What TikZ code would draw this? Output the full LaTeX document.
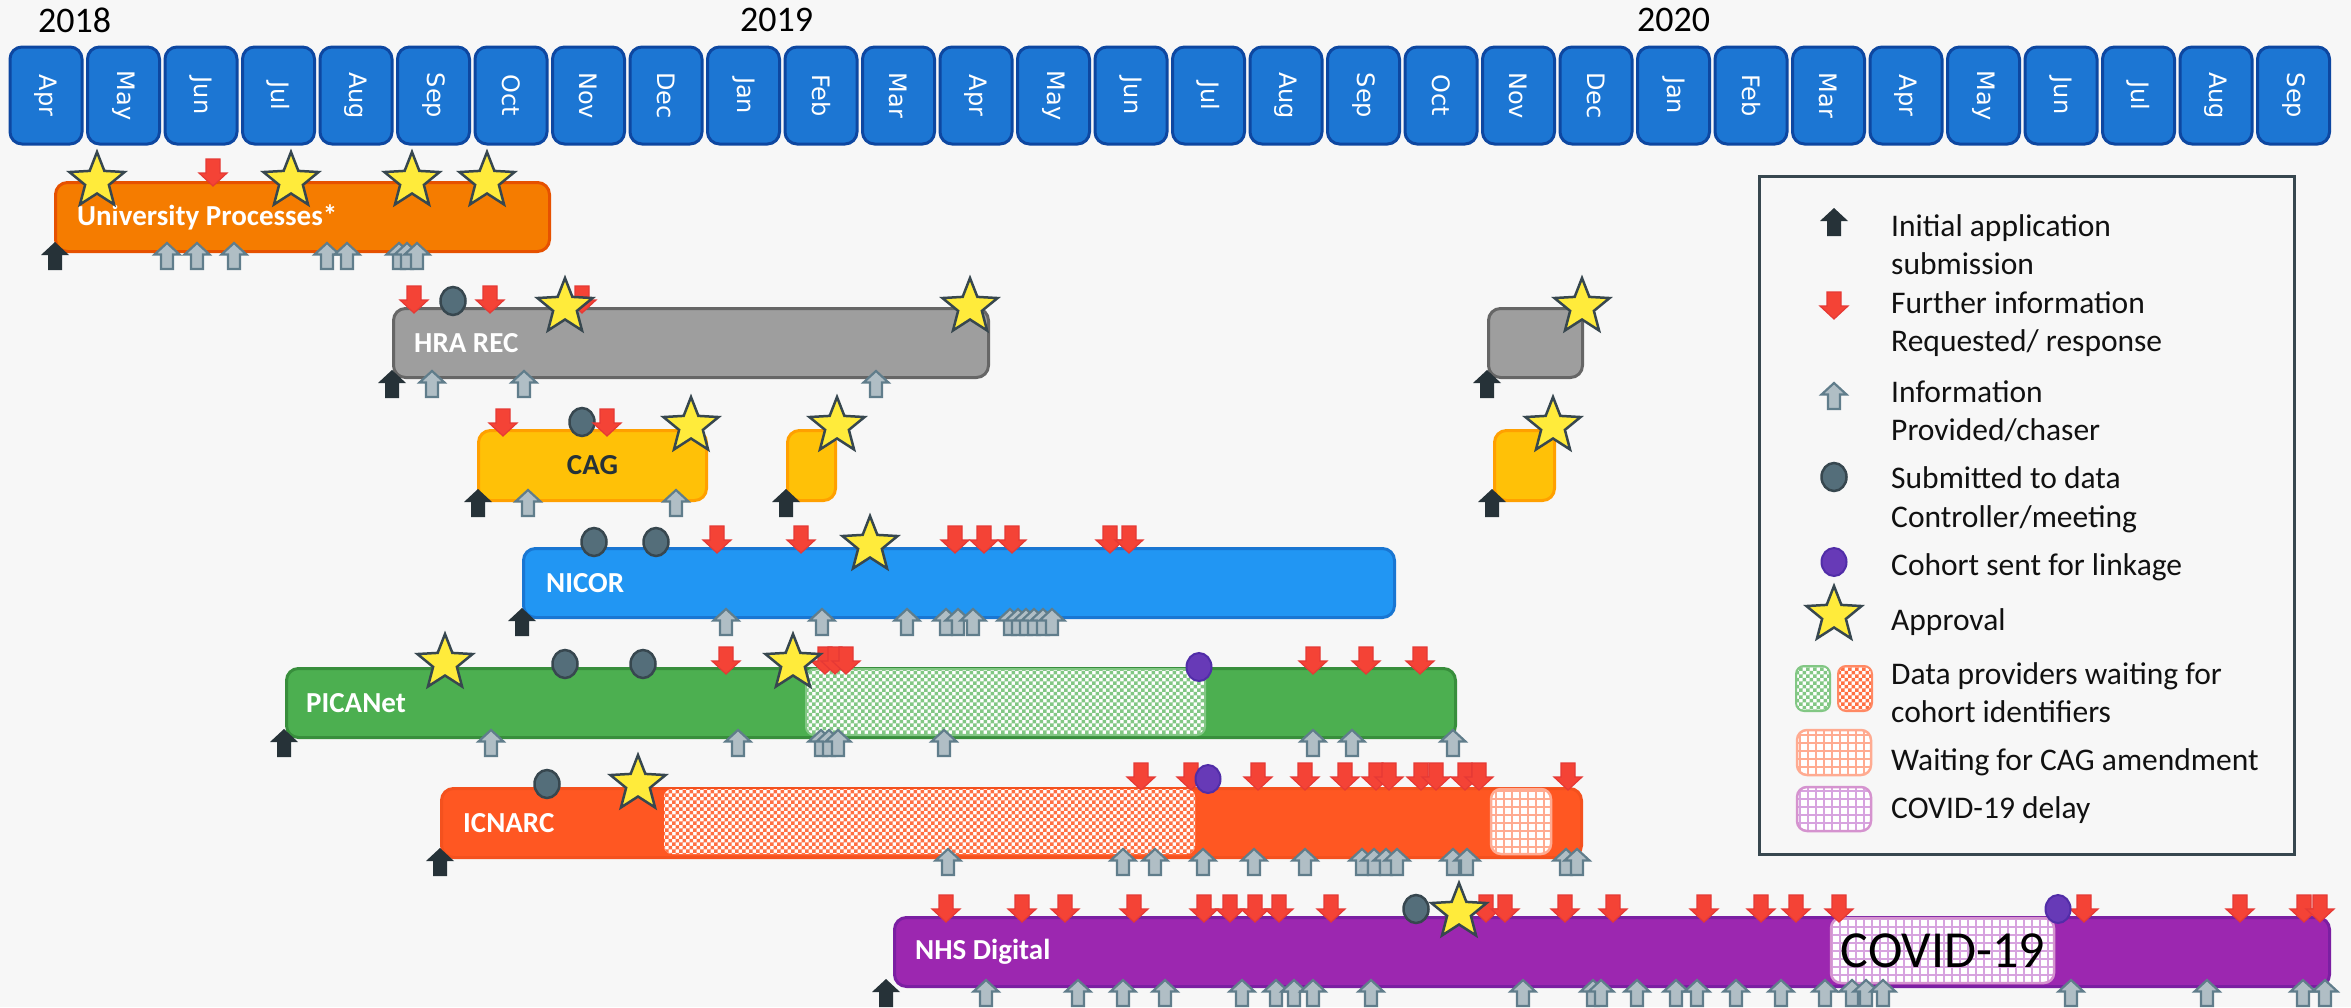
\documentclass[tikz,border=0pt]{standalone}
\usepackage{fontspec}
\setmainfont{Carlito}
\newfontfamily\monthfont{DejaVu Sans}
\usepackage{graphicx}
\usetikzlibrary{patterns,patterns.meta}

\definecolor{bgcol}{HTML}{F7F7F7}
\definecolor{monthfill}{HTML}{1C76D3}
\definecolor{monthline}{HTML}{0D47A1}
\definecolor{univfill}{HTML}{F57C00}
\definecolor{univline}{HTML}{E65100}
\definecolor{hrafill}{HTML}{9E9E9E}
\definecolor{hraline}{HTML}{666666}
\definecolor{cagfill}{HTML}{FFC107}
\definecolor{cagline}{HTML}{FFA000}
\definecolor{cagtext}{HTML}{263238}
\definecolor{nicorfill}{HTML}{2196F3}
\definecolor{nicorline}{HTML}{1976D2}
\definecolor{picafill}{HTML}{4CAF50}
\definecolor{picaline}{HTML}{388E3C}
\definecolor{icnarcfill}{HTML}{FF5722}
\definecolor{icnarcline}{HTML}{F4511E}
\definecolor{nhsfill}{HTML}{9C27B0}
\definecolor{nhsline}{HTML}{7B1FA2}
\definecolor{reqfill}{HTML}{F44336}
\definecolor{reqline}{HTML}{E53935}
\definecolor{infofill}{HTML}{B0BEC5}
\definecolor{infoline}{HTML}{607D8B}
\definecolor{initfill}{HTML}{263238}
\definecolor{meetfill}{HTML}{546E7A}
\definecolor{meetline}{HTML}{37474F}
\definecolor{linkfill}{HTML}{673AB7}
\definecolor{linkline}{HTML}{512DA8}
\definecolor{starfill}{HTML}{FFEB3B}
\definecolor{starline}{HTML}{37474F}
\definecolor{legline}{HTML}{37474F}
\definecolor{legtextcol}{HTML}{111111}
\definecolor{cagamend}{HTML}{FFAB91}
\definecolor{covidgrid}{HTML}{D7A3DF}

% small chequer for the waiting periods
\pgfdeclarepatternformonly{chequer}{\pgfqpoint{-0.1pt}{-0.1pt}}{\pgfqpoint{7.1pt}{7.1pt}}{\pgfqpoint{7pt}{7pt}}{%
  \pgfpathrectangle{\pgfqpoint{0pt}{0pt}}{\pgfqpoint{3.5pt}{3.5pt}}%
  \pgfpathrectangle{\pgfqpoint{3.5pt}{3.5pt}}{\pgfqpoint{3.5pt}{3.5pt}}%
  \pgfusepath{fill}}

\begin{document}
\begin{tikzpicture}[x=1pt, y=-1pt,
    month/.style={draw=monthline, fill=monthfill, line width=3pt, rounded corners=12pt, minimum width=72pt, minimum height=97pt, inner sep=0pt, text=white, font=\monthfont\fontsize{24}{24}\selectfont},
    bar/.style={rounded corners=12pt, line width=3pt, minimum height=69pt, anchor=north west, inner sep=0pt},
    barlabel/.style={anchor=west, inner sep=0pt, text=white, font=\bfseries\fontsize{29}{30}\selectfont},
    year/.style={anchor=west, inner sep=0pt, font=\fontsize{36}{36}\selectfont},
    legtext/.style={anchor=base west, inner sep=0pt, text=legtextcol, font=\fontsize{31.5}{38}\selectfont},
    waitgreen/.style={preaction={fill=white}, pattern=chequer, pattern color=picafill!70, draw=picafill!70, line width=2pt, rounded corners=8pt},
    waitorange/.style={preaction={fill=white}, pattern=chequer, pattern color=icnarcfill!85, draw=icnarcfill!70, line width=2pt, rounded corners=8pt},
    cagwait/.style={preaction={fill=white}, pattern={Hatch[angle=0,distance=8pt,line width=1.6pt]}, pattern color=cagamend, draw=cagamend, line width=2.5pt, rounded corners=10pt},
    covidwait/.style={preaction={fill=white}, pattern={Hatch[angle=0,distance=8pt,line width=1.4pt]}, pattern color=covidgrid, draw=covidgrid!90!purple, line width=2.5pt, rounded corners=10pt},
    initarrow/.pic={\fill[initfill] (0,0) -- (14,13) -- (7,13) -- (7,28) -- (-7,28) -- (-7,13) -- (-14,13) -- cycle;},
    infoarrow/.pic={\filldraw[fill=infofill, draw=infoline, line width=2.2pt] (0,1) -- (12.5,12.5) -- (6,12.5) -- (6,27) -- (-6,27) -- (-6,12.5) -- (-12.5,12.5) -- cycle;},
    reqarrow/.pic={\filldraw[fill=reqfill, draw=reqline, line width=1.2pt] (0,0) -- (-14,-13) -- (-7,-13) -- (-7,-27) -- (7,-27) -- (7,-13) -- (14,-13) -- cycle;},
    meetdot/.pic={\filldraw[fill=meetfill, draw=meetline, line width=2.5pt] (0,0) ellipse [x radius=12.5pt, y radius=14pt];},
    linkdot/.pic={\filldraw[fill=linkfill, draw=linkline, line width=2pt] (0,0) ellipse [x radius=12.5pt, y radius=14pt];},
    approval/.pic={\filldraw[fill=starfill, draw=starline, line width=2.5pt] (270:29) -- (306:12.5) -- (342:29) -- (18:12.5) -- (54:29) -- (90:12.5) -- (126:29) -- (162:12.5) -- (198:29) -- (234:12.5) -- cycle;}]

% Hintergrund
\fill[bgcol] (0,0) rectangle (2351,1007);
\useasboundingbox (0,0) rectangle (2351,1007);

% years and months
\node[year] (y2018) at (38,20) {2018};
\node[year] (y2019) at (740,20) {2019};
\node[year] (y2020) at (1637,20) {2020};
\foreach \m [count=\i from 0] in {Apr,May,Jun,Jul,Aug,Sep,Oct,Nov,Dec,Jan,Feb,Mar,Apr,May,Jun,Jul,Aug,Sep,Oct,Nov,Dec,Jan,Feb,Mar,Apr,May,Jun,Jul,Aug,Sep}
  \node[month] (m\i) at ({46+77.5*\i},95.5) {\rotatebox{-90}{\m}};

% University Processes
\node[bar, fill=univfill, draw=univline, minimum width=494pt] (univ) at (54,181) {};
\node[barlabel] (univlbl) at ([xshift=23pt]univ.west) {University Processes*};
\foreach \x in {213} \pic at (\x,186) {reqarrow};
\foreach \x in {167,197,234,327,347,399,407,417} \pic at (\x,242) {infoarrow};
\pic at (55,242) {initarrow};
\foreach \x in {97,291,412,487} \pic at (\x,181) {approval};

% HRA REC
\node[bar, fill=hrafill, draw=hraline, minimum width=595pt] (hra) at (392,307) {};
\node[bar, fill=hrafill, draw=hraline, minimum width=94pt] (hrab) at (1487,307) {};
\node[barlabel] (hralbl) at ([xshift=22pt]hra.west) {HRA REC};
\foreach \x in {453} \pic at (\x,301) {meetdot};
\foreach \x in {414,490,582} \pic at (\x,313) {reqarrow};
\foreach \x in {432,524,876} \pic at (\x,370) {infoarrow};
\foreach \x in {392,1487} \pic at (\x,370) {initarrow};
\foreach \x in {565,970,1582} \pic at (\x,307) {approval};

% CAG
\node[bar, fill=cagfill, draw=cagline, minimum width=228pt, minimum height=70pt] (cag) at (477,429) {};
\node[bar, fill=cagfill, draw=cagline, minimum width=48pt, minimum height=70pt] (cagb) at (786,429) {};
\node[bar, fill=cagfill, draw=cagline, minimum width=60pt, minimum height=70pt] (cagc) at (1493,429) {};
\node[barlabel, anchor=center, text=cagtext] (caglbl) at (cag.center) {CAG};
\foreach \x in {582} \pic at (\x,422) {meetdot};
\foreach \x in {503,607} \pic at (\x,436) {reqarrow};
\foreach \x in {528,676} \pic at (\x,489) {infoarrow};
\foreach \x in {478,786,1492} \pic at (\x,489) {initarrow};
\foreach \x in {691,837,1553} \pic at (\x,426) {approval};

% NICOR
\node[bar, fill=nicorfill, draw=nicorline, minimum width=871pt] (nicor) at (522,547) {};
\node[barlabel] (nicorlbl) at ([xshift=24pt]nicor.west) {NICOR};
\foreach \x in {594,656} \pic at (\x,542) {meetdot};
\foreach \x in {717,801,955,984,1012,1110,1129} \pic at (\x,553) {reqarrow};
\foreach \x in {726,822,907,946,958,973,1010,1018,1026,1034,1043,1052} \pic at (\x,608) {infoarrow};
\pic at (522,608) {initarrow};
\pic at (870,545) {approval};

% PICANet
\node[bar, fill=picafill, draw=picaline, minimum width=1169pt] (pica) at (285,667) {};
\draw[waitgreen] (806,669) rectangle (1205,735);
\node[barlabel] (picalbl) at ([xshift=21pt]pica.west) {PICANet};
\foreach \x in {565,643} \pic at (\x,664) {meetdot};
\foreach \x in {726,825,835,846,1313,1366,1420} \pic at (\x,674) {reqarrow};
\pic at (1199,667) {linkdot};
\foreach \x in {491,738,821,829,838,944,1313,1352,1453} \pic at (\x,729) {infoarrow};
\pic at (284,729) {initarrow};
\foreach \x in {445,793} \pic at (\x,663) {approval};

% ICNARC
\node[bar, fill=icnarcfill, draw=icnarcline, minimum width=1140pt] (icnarc) at (440,787) {};
\fill[preaction={fill=white}, pattern=chequer, pattern color=icnarcfill!85, rounded corners=8pt] (664,789) rectangle (1195,854);
\draw[cagwait] (1491,789) rectangle (1551,854);
\node[barlabel] (icnarclbl) at ([xshift=23pt]icnarc.west) {ICNARC};
\pic at (547,784) {meetdot};
\foreach \x in {1141,1191,1258,1305,1345,1376,1389,1421,1436,1465,1479,1568} \pic at (\x,790) {reqarrow};
\pic at (1208,779) {linkdot};
\foreach \x in {948,1123,1155,1203,1254,1305,1362,1374,1386,1397,1453,1467,1566,1577} \pic at (\x,848) {infoarrow};
\pic at (440,848) {initarrow};
\pic at (638,784) {approval};

% NHS Digital
\node[bar, fill=nhsfill, draw=nhsline, minimum width=1435pt] (nhs) at (893,916) {};
\draw[covidwait] (1831,918) rectangle (2054,983);
\node[inner sep=0pt, font=\fontsize{52}{52}\selectfont] (covidlbl) at (1943,951) {COVID-19};
\node[barlabel] (nhslbl) at ([xshift=22pt]nhs.west) {NHS Digital};
\pic at (1416,909) {meetdot};
\foreach \x in {946,1022,1065,1134,1204,1230,1255,1279,1331,1486,1505,1565,1613,1704,1761,1796,1839,2084,2240,2304,2320} \pic at (\x,922) {reqarrow};
\pic at (2058,909) {linkdot};
\foreach \x in {986,1078,1123,1165,1242,1276,1294,1313,1371,1523,1593,1601,1637,1676,1697,1736,1781,1825,1852,1866,1883,2071,2207,2303,2325} \pic at (\x,979) {infoarrow};
\pic at (886,979) {initarrow};
\pic at (1459,912) {approval};

% Legende
\draw[legline, line width=3pt] (1759,176) rectangle (2294,854);
\pic at (1834,208) {initarrow};
\pic at (1834,319) {reqarrow};
\pic at (1834,382) {infoarrow};
\pic at (1834,477) {meetdot};
\pic at (1834,562) {linkdot};
\pic at (1834,615) {approval};
\draw[waitgreen] (1796,666) rectangle (1830,711);
\draw[waitorange] (1838,666) rectangle (1872,711);
\draw[cagwait] (1797,730) rectangle (1871,775);
\draw[covidwait] (1797,787) rectangle (1871,831);
\node[legtext] (leginit) at (1891,236) {Initial application};
\node[legtext] (leginitb) at (1891,274) {submission};
\node[legtext] (legreq) at (1891,313) {Further information};
\node[legtext] (legreqb) at (1891,351) {Requested/ response};
\node[legtext] (leginfo) at (1891,402) {Information};
\node[legtext] (leginfob) at (1891,440) {Provided/chaser};
\node[legtext] (legmeet) at (1891,488) {Submitted to data};
\node[legtext] (legmeetb) at (1891,527) {Controller/meeting};
\node[legtext] (leglink) at (1891,575) {Cohort sent for linkage};
\node[legtext] (legappr) at (1891,630) {Approval};
\node[legtext] (legwait) at (1891,684) {Data providers waiting for};
\node[legtext] (legwaitb) at (1891,722) {cohort identifiers};
\node[legtext] (legcag) at (1891,770) {Waiting for CAG amendment};
\node[legtext] (legcovid) at (1891,818) {COVID-19 delay};
\end{tikzpicture}
\end{document}
